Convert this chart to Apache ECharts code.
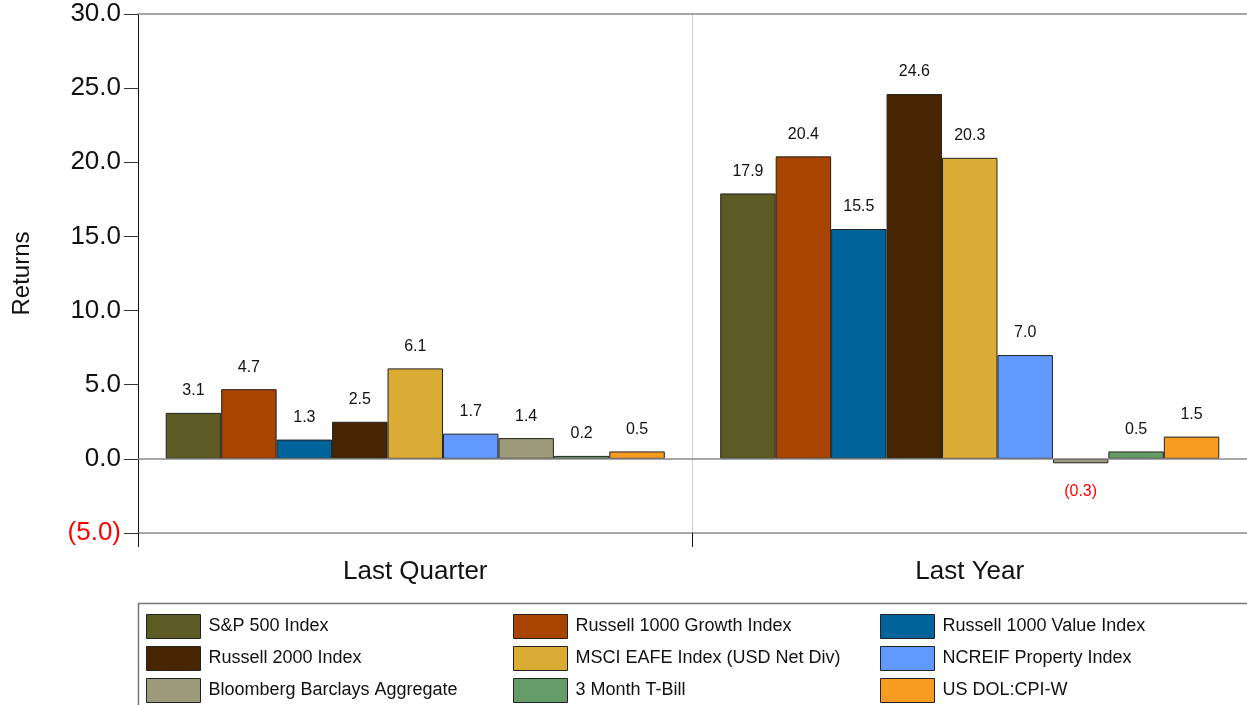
<!DOCTYPE html>
<html>
<head>
<meta charset="utf-8">
<script src="https://cdn.jsdelivr.net/npm/echarts@6/dist/echarts.min.js"></script>
<style>
  html, body { margin: 0; padding: 0; background: #fff; }
  #chart { width: 1247px; height: 705px; }
</style>
</head>
<body>
<div id="chart"></div>
<script>
const periods = ['Last Quarter', 'Last Year']
const seriesNames = [
    'S&P 500 Index', 'Russell 1000 Growth Index', 'Russell 1000 Value Index',
    'Russell 2000 Index', 'MSCI EAFE Index (USD Net Div)', 'NCREIF Property Index',
    'Bloomberg Barclays Aggregate', '3 Month T-Bill', 'US DOL:CPI-W'
]
const lastQuarter = [3.1, 4.7, 1.3, 2.5, 6.1, 1.7, 1.4, 0.2, 0.5]
const lastYear = [17.9, 20.4, 15.5, 24.6, 20.3, 7.0, -0.3, 0.5, 1.5]
const colors = ['#5b5b23', '#a94300', '#00639a', '#472500', '#daac33', '#6199ff', '#9c9a7b', '#659b66', '#f89b21']
const yTicks = { min: -5, max: 30, step: 5 }

const FONT = '"Liberation Sans", Arial, sans-serif'

const fmt = v => v < 0 ? '(' + Math.abs(v).toFixed(1) + ')' : v.toFixed(1)

// negative values get their label underneath, in red
const makeItem = v => {
    if (v < 0) {
        return { value: v, label: { position: 'bottom', color: '#ff0000', distance: 20 } }
    }
    return v
}

const series = seriesNames.map((name, i) => {
    const s = {
        name,
        type: 'bar',
        barGap: '0%',
        barCategoryGap: '10%',
        data: [makeItem(lastQuarter[i]), makeItem(lastYear[i])],
        itemStyle: { color: colors[i], borderColor: '#222', borderWidth: 1 },
        label: {
            show: true,
            position: 'top',
            distance: 14,
            fontFamily: FONT,
            fontSize: 16,
            color: '#111',
            formatter: p => fmt(p.value)
        }
    }
    if (i === 0) {
        s.markLine = {
            silent: true,
            symbol: 'none',
            label: { show: false },
            lineStyle: { color: '#8a8a8a', type: 'solid', width: 1.5 },
            data: [{ yAxis: 0 }, { yAxis: yTicks.max }]
        }
    }
    return s
})

// three legend columns, three items each
const legendCols = [0, 1, 2].map(c => ({
    data: [seriesNames[c], seriesNames[c + 3], seriesNames[c + 6]],
    orient: 'vertical',
    left: 146 + c * 367,
    top: 614,
    height: 100,
    padding: 0,
    itemWidth: 54,
    itemHeight: 24,
    itemGap: 7,
    icon: 'rect',
    selectedMode: false,
    itemStyle: { borderWidth: 1, borderColor: '#222' },
    textStyle: { fontFamily: FONT, fontSize: 18, color: '#111', padding: [0, 0, 0, 3] }
}))

const chart = echarts.init(document.getElementById('chart'))
chart.setOption({
    animation: false,
    backgroundColor: '#fff',
    textStyle: { fontFamily: FONT },
    grid: { left: 138, right: 0, top: 14, bottom: 172, containLabel: false, outerBoundsMode: 'none' },
    legend: legendCols,
    graphic: [{
        type: 'rect',
        shape: { x: 138.5, y: 603.5, width: 1120, height: 120 },
        style: { fill: 'none', stroke: '#777', lineWidth: 1.5 },
        silent: true
    }],
    xAxis: {
        type: 'category',
        data: periods,
        axisLine: { onZero: false, lineStyle: { color: '#8a8a8a', width: 1.5 } },
        axisTick: { show: true, length: 14, lineStyle: { color: '#111' } },
        axisLabel: { fontFamily: FONT, fontSize: 26, color: '#111', margin: 26 },
        splitLine: { show: true, lineStyle: { color: '#cccccc' } }
    },
    yAxis: {
        type: 'value',
        min: yTicks.min,
        max: yTicks.max,
        interval: yTicks.step,
        name: 'Returns',
        nameLocation: 'middle',
        nameRotate: 90,
        nameGap: 104,
        nameTextStyle: { fontFamily: FONT, fontSize: 24, color: '#111' },
        axisLine: { show: true, lineStyle: { color: '#111' } },
        axisTick: { show: true, length: 14, lineStyle: { color: '#333' } },
        axisLabel: {
            fontFamily: FONT,
            fontSize: 26,
            color: '#111',
            margin: 17,
            formatter: v => v < 0 ? '{neg|' + fmt(v) + '}' : fmt(v),
            rich: { neg: { color: '#ff0000', fontFamily: FONT, fontSize: 26 } }
        },
        splitLine: { show: false }
    },
    series
})
</script>
</body>
</html>
